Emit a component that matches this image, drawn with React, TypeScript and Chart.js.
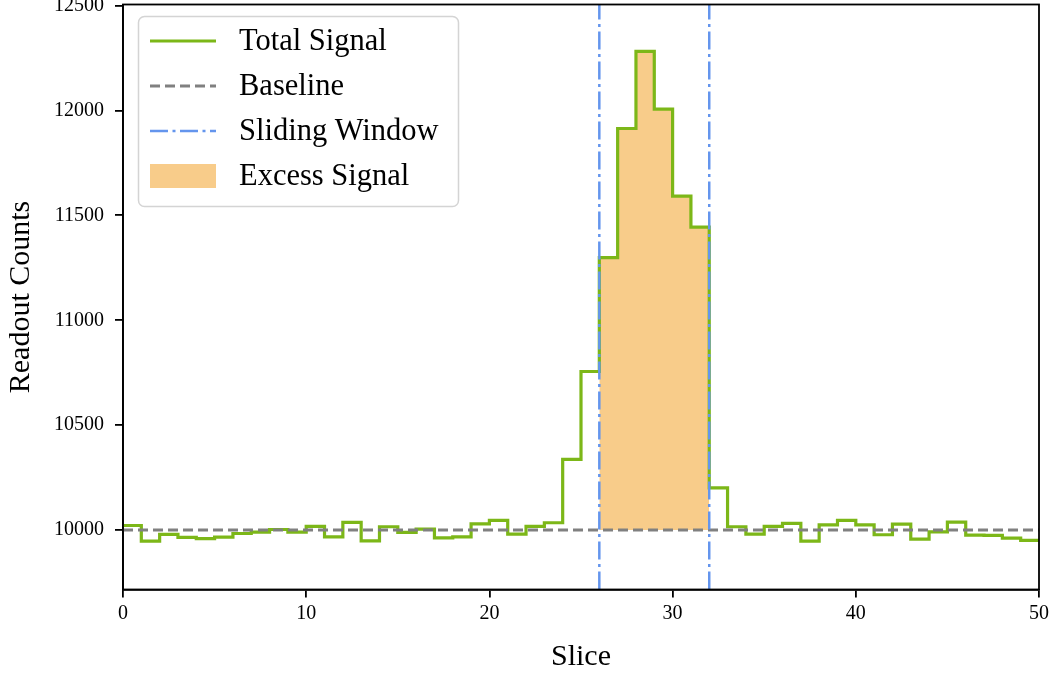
import { useEffect, useRef } from "react";
import { Chart, registerables } from "chart.js";

Chart.register(...registerables);

// ---- data ----
const totalSignal = [
  10022, 9948, 9980, 9965, 9959, 9967, 9984, 9990, 10003, 9990,
  10018, 9968, 10037, 9949, 10016, 9989, 10005, 9963, 9968, 10030,
  10046, 9981, 10018, 10035, 10337, 10756, 11299, 11914, 12282, 12006,
  11592, 11444, 10201, 10016, 9981, 10018, 10032, 9948, 10025, 10046,
  10025, 9978, 10029, 9957, 9992, 10038, 9976, 9975, 9962, 9951,
];
const BASELINE = 10000;
const windowStart = 26;
const windowEnd = 32;
const X_MIN = 0;
const X_MAX = 50;
const Y_MIN = 9717;
const Y_MAX = 12505;
const xTickStep = 10;
const yTicks = [10000, 10500, 11000, 11500, 12000, 12500];
const labels = {
  total: "Total Signal",
  baseline: "Baseline",
  window: "Sliding Window",
  excess: "Excess Signal",
};
const xTitle = "Slice";
const yTitle = "Readout Counts";

// ---- styles ----
const FONT = "'Liberation Serif', 'DejaVu Serif', serif";
const GREEN = "rgb(124,183,24)";
const GRAY = "#808080";
const BLUE = "#6495ED";
const ORANGE = "rgb(248,204,138)";
const DASH = [10, 5];
const DASHDOT = [18, 4.5, 3, 4.5];

export default function App() {
  const ref = useRef<HTMLCanvasElement | null>(null);

  useEffect(() => {
    document.body.style.margin = "0";
    const canvas = ref.current;
    if (!canvas) return;

    const signalData = totalSignal.map((v, i) => ({ x: i, y: v }));
    signalData.push({ x: X_MAX, y: totalSignal[totalSignal.length - 1] });

    const fillData: { x: number; y: number }[] = [];
    for (let i = windowStart; i < windowEnd; i++) fillData.push({ x: i, y: totalSignal[i] });
    fillData.push({ x: windowEnd, y: totalSignal[windowEnd - 1] });

    const overlay = {
      id: "frameLegend",
      afterDraw(chart: any) {
        const { ctx, chartArea: a } = chart;
        ctx.save();
        ctx.strokeStyle = "#000";
        ctx.lineWidth = 1.8;
        ctx.setLineDash([]);
        ctx.strokeRect(a.left, a.top, a.right - a.left, a.bottom - a.top);

        // legend box
        const bx = 138.5, by = 16.5, bw = 320, bh = 190;
        ctx.beginPath();
        (ctx as any).roundRect(bx, by, bw, bh, 6);
        ctx.fillStyle = "rgba(255,255,255,0.85)";
        ctx.fill();
        ctx.strokeStyle = "#d4d4d4";
        ctx.lineWidth = 1.5;
        ctx.stroke();

        const rows = [41, 86, 131, 176];
        const hx0 = 150, hx1 = 216, tx = 239;
        ctx.lineCap = "butt";
        ctx.strokeStyle = GREEN; ctx.lineWidth = 3; ctx.setLineDash([]);
        ctx.beginPath(); ctx.moveTo(hx0, rows[0]); ctx.lineTo(hx1, rows[0]); ctx.stroke();
        ctx.strokeStyle = GRAY; ctx.lineWidth = 3; ctx.setLineDash(DASH);
        ctx.beginPath(); ctx.moveTo(hx0, rows[1]); ctx.lineTo(hx1, rows[1]); ctx.stroke();
        ctx.strokeStyle = BLUE; ctx.lineWidth = 2.5; ctx.setLineDash(DASHDOT);
        ctx.beginPath(); ctx.moveTo(hx0, rows[2]); ctx.lineTo(hx1, rows[2]); ctx.stroke();
        ctx.setLineDash([]);
        ctx.fillStyle = ORANGE;
        ctx.fillRect(hx0, rows[3] - 12, hx1 - hx0, 24);

        ctx.fillStyle = "#000";
        ctx.font = `30.5px ${FONT}`;
        ctx.textBaseline = "middle";
        ctx.textAlign = "left";
        const texts = [labels.total, labels.baseline, labels.window, labels.excess];
        texts.forEach((t, i) => ctx.fillText(t, tx, rows[i] + 1));
        ctx.restore();
      },
    };

    const chart = new Chart(canvas, {
      type: "line",
      data: {
        datasets: [
          {
            label: labels.excess,
            data: fillData,
            stepped: true,
            borderColor: "rgba(0,0,0,0)",
            borderWidth: 1,
            backgroundColor: ORANGE,
            fill: { value: BASELINE },
            pointRadius: 0,
            order: 4,
          },
          {
            label: labels.total,
            data: signalData,
            stepped: true,
            borderColor: GREEN,
            borderWidth: 3.2,
            borderJoinStyle: "miter",
            fill: false,
            pointRadius: 0,
            order: 3,
          },
          {
            label: labels.baseline,
            data: [
              { x: X_MIN, y: BASELINE },
              { x: X_MAX, y: BASELINE },
            ],
            borderColor: GRAY,
            borderWidth: 3,
            borderDash: DASH,
            fill: false,
            pointRadius: 0,
            order: 2,
          },
          {
            label: labels.window,
            data: [
              { x: windowStart, y: Y_MIN },
              { x: windowStart, y: Y_MAX },
            ],
            borderColor: BLUE,
            borderWidth: 2.5,
            borderDash: DASHDOT,
            fill: false,
            pointRadius: 0,
            order: 1,
          },
          {
            label: labels.window + " end",
            data: [
              { x: windowEnd, y: Y_MIN },
              { x: windowEnd, y: Y_MAX },
            ],
            borderColor: BLUE,
            borderWidth: 2.5,
            borderDash: DASHDOT,
            fill: false,
            pointRadius: 0,
            order: 1,
          },
        ] as any,
      },
      options: {
        responsive: false,
        animation: false,
        devicePixelRatio: 1,
        layout: { padding: { top: 4.5, right: 23, bottom: 0, left: 0 } },
        plugins: {
          legend: { display: false },
          tooltip: { enabled: false },
        },
        scales: {
          x: {
            type: "linear",
            min: X_MIN,
            max: X_MAX,
            ticks: {
              stepSize: xTickStep,
              color: "#000",
              font: { family: FONT, size: 20 },
              padding: 4,
              maxRotation: 0,
            },
            grid: {
              drawOnChartArea: false,
              drawTicks: true,
              tickLength: 8,
              color: "#000",
              lineWidth: 1.8,
            },
            border: { display: true, color: "#000", width: 1.8 },
            title: {
              display: true,
              text: xTitle,
              color: "#000",
              font: { family: FONT, size: 30 },
              padding: { top: 0, bottom: 2 },
            },
            afterFit(s: any) {
              s.height = 87.5;
            },
          },
          y: {
            type: "linear",
            min: Y_MIN,
            max: Y_MAX,
            afterBuildTicks(s: any) {
              s.ticks = yTicks.map((v) => ({ value: v }));
            },
            ticks: {
              color: "#000",
              font: { family: FONT, size: 20 },
              padding: 11,
              callback: (v: any) => String(v),
            },
            grid: {
              drawOnChartArea: false,
              drawTicks: true,
              tickLength: 8,
              color: "#000",
              lineWidth: 1.8,
            },
            border: { display: true, color: "#000", width: 1.8 },
            title: {
              display: true,
              text: yTitle,
              color: "#000",
              font: { family: FONT, size: 30 },
              padding: { top: 3, bottom: 0 },
            },
            afterFit(s: any) {
              s.width = 123;
              s.paddingTop = 0;
              s.paddingBottom = 0;
            },
          },
        },
      },
      plugins: [overlay],
    });

    return () => chart.destroy();
  }, []);

  return (
    <div style={{ width: 1062, height: 677 }}>
      <canvas ref={ref} width={1062} height={677} style={{ display: "block" }} />
    </div>
  );
}
